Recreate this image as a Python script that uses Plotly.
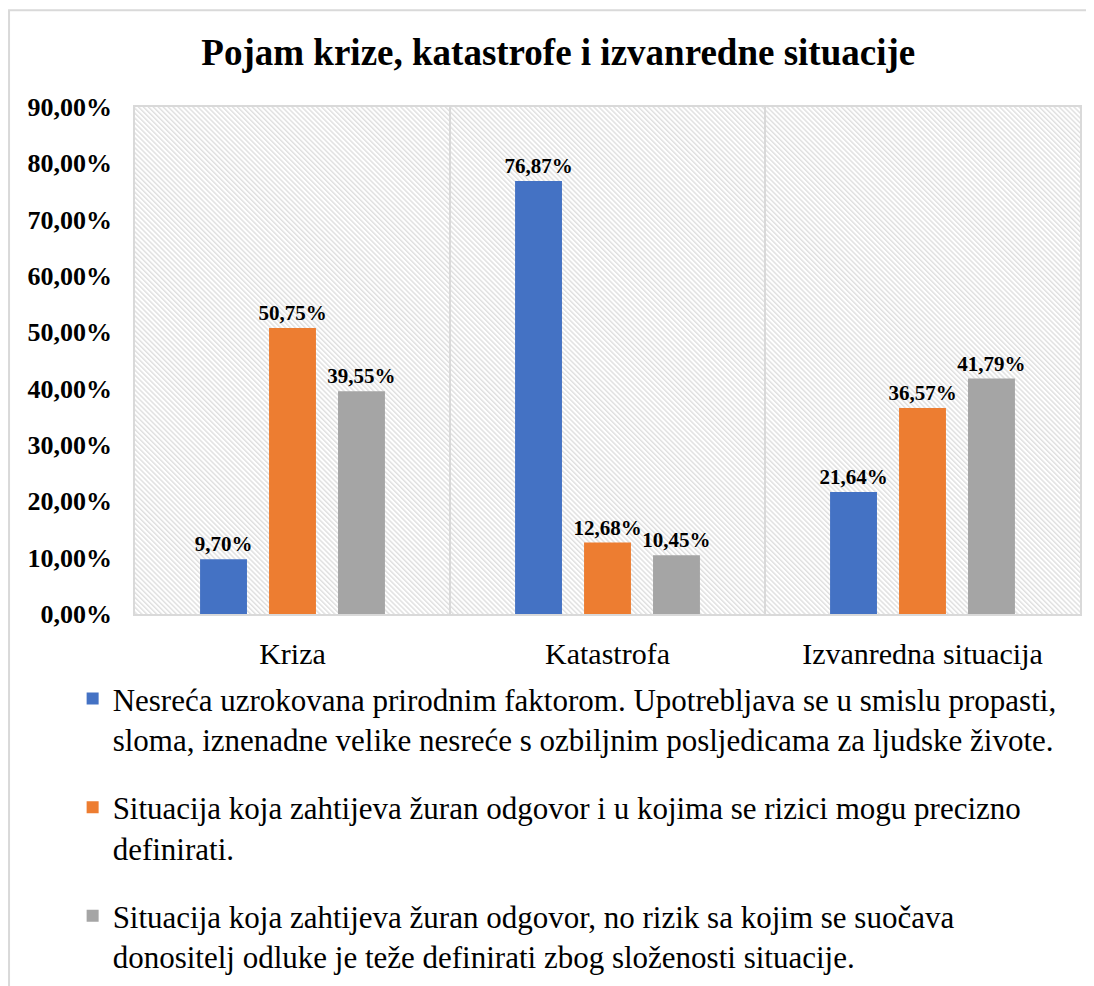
import base64
import plotly.graph_objects as go

# data
categories = ["Kriza", "Katastrofa", "Izvanredna situacija"]
series_names = [
    "Nesreća uzrokovana prirodnim faktorom. Upotrebljava se u smislu propasti,<br>"
    "sloma, iznenadne velike nesreće s ozbiljnim posljedicama za ljudske živote.",
    "Situacija koja zahtijeva žuran odgovor i u kojima se rizici mogu precizno<br>"
    "definirati.",
    "Situacija koja zahtijeva žuran odgovor, no rizik sa kojim se suočava<br>"
    "donositelj odluke je teže definirati zbog složenosti situacije.",
]
nesreca = [0.0970, 0.7687, 0.2164]
zuran_precizno = [0.5075, 0.1268, 0.3657]
zuran_slozeno = [0.3955, 0.1045, 0.4179]
colors = ["#4472C4", "#ED7D31", "#A5A5A5"]

FONT = "Liberation Serif, Times New Roman, serif"

fig = go.Figure()
for i, vals in enumerate([nesreca, zuran_precizno, zuran_slozeno]):
    fig.add_trace(go.Bar(
        x=categories, y=vals, name=series_names[i],
        legendgroup=f"g{i}",
        marker=dict(color=colors[i], line=dict(width=0)),
        texttemplate="%{y:.2%}", textposition="outside",
        constraintext="none",
        textfont=dict(family=FONT, size=21, color="black", weight="bold"),
        cliponaxis=False,
    ))

# diagonal hatch for the plot area background
W, H = 945, 508
svg = (
    f'<svg xmlns="http://www.w3.org/2000/svg" width="{W}" height="{H}">'
    '<defs><pattern id="p" width="8" height="3.5" patternUnits="userSpaceOnUse" '
    'patternTransform="rotate(45)">'
    '<rect width="8" height="3.5" fill="white"/>'
    '<line x1="0" y1="1" x2="8" y2="1" stroke="#d9d9d9" stroke-width="1.2"/>'
    '</pattern></defs>'
    f'<rect width="{W}" height="{H}" fill="url(#p)"/></svg>'
)
hatch = "data:image/svg+xml;base64," + base64.b64encode(svg.encode()).decode()

fig.update_layout(
    width=1094, height=986,
    margin=dict(l=127, r=22, t=99, b=379),
    paper_bgcolor="white", plot_bgcolor="white",
    separators=",.",
    barmode="group", bargap=0.343, bargroupgap=0.32,
    title=dict(text="<b>Pojam krize, katastrofe i izvanredne situacije</b>",
               x=0.503, xref="container", y=0.955, yanchor="middle",
               font=dict(family=FONT, size=37, color="black")),
    xaxis=dict(tickson="boundaries", showgrid=True, gridcolor="#d9d9d9", gridwidth=1.5,
               showline=True, linecolor="#d9d9d9", linewidth=1.5, mirror=True,
               ticks="", ticklabelstandoff=12,
               tickfont=dict(family=FONT, size=30, color="black")),
    yaxis=dict(range=[0, 0.9], dtick=0.1, tickformat=".2%", showgrid=False,
               zeroline=False, showline=True, linecolor="#d9d9d9", linewidth=1.5,
               mirror=True, ticks="", ticklabelstandoff=16,
               tickfont=dict(family=FONT, size=26, color="black", weight="bold")),
    legend=dict(orientation="v", x=-0.066, xanchor="left", y=-0.112, yanchor="top",
                valign="top", tracegroupgap=25,
                font=dict(family=FONT, size=31, color="black")),
    images=[dict(source=hatch, xref="paper", yref="paper", x=0, y=1,
                 sizex=1, sizey=1, sizing="stretch", layer="below")],
    shapes=[dict(type="rect", xref="paper", yref="paper",
                 x0=-0.1333, x1=1.2, y0=-0.8, y1=1.191,
                 line=dict(color="#d9d9d9", width=2))],
)

fig.write_html("out.html")
